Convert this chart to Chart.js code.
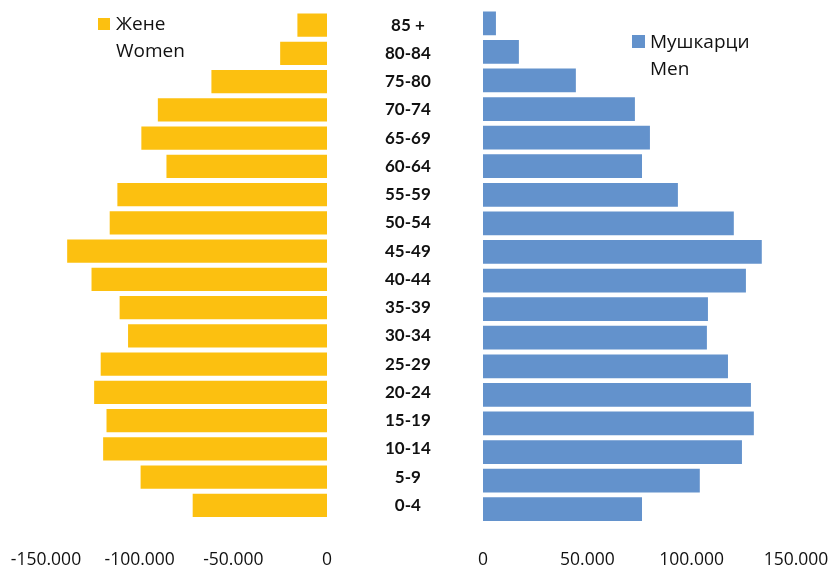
<!DOCTYPE html>
<html>
<head>
<meta charset="utf-8">
<script src="https://cdn.jsdelivr.net/npm/chart.js@4"></script>
<style>
  html, body { margin: 0; padding: 0; background: #fff; }
  #wrap { position: relative; width: 832px; height: 566px; overflow: hidden; }
  #zene { position: absolute; left: 0; top: 0; }
  #muski { position: absolute; left: 470px; top: 0; }
  .leg { position: absolute; font-family: "Open Sans", sans-serif; font-size: 19px; line-height: 27px; color: #111; }
  .leg i { position: absolute; width: 12px; height: 12px; }
</style>
</head>
<body>
<div id="wrap">
  <canvas id="zene" width="470" height="572"></canvas>
  <canvas id="muski" width="362" height="572"></canvas>
  <div class="leg" style="left:116px; top:10px;"><i style="left:-18px; top:8px; background:#FCC010;"></i>Жене<br>Women</div>
  <div class="leg" style="left:650px; top:28px;"><i style="left:-18px; top:7px; width:13px; height:13px; background:#6392CC;"></i>Мушкарци<br>Men</div>
</div>
<script>
// Старосне групе, од највише ка најнижој
const grupe = ['85 +', '80-84', '75-80', '70-74', '65-69', '60-64', '55-59', '50-54', '45-49',
               '40-44', '35-39', '30-34', '25-29', '20-24', '15-19', '10-14', '5-9', '0-4'];

// Жене (негативне вредности, лева страна)
const zene = [-15800, -25000, -61700, -90300, -99100, -85700, -111900, -116000, -138700,
              -125700, -110700, -106200, -120800, -124300, -117700, -119500, -99500, -71700];

// Мушкарци (десна страна)
const muskarci = [6200, 17200, 44500, 72800, 80000, 76200, 93400, 120200, 133600,
                  126000, 107800, 107300, 117400, 128400, 129800, 124100, 103900, 76200];

const tickoviZ = [-150000, -100000, -50000, 0];
const tickoviM = [0, 50000, 100000, 150000];

Chart.defaults.font.family = 'Lato';
Chart.defaults.color = '#111';

// format 150.000
function formatBroj(v) {
    return String(v).replace(/\B(?=(\d{3})+(?!\d))/g, '.');
}

const fontOse = { family: 'Open Sans', size: 17.5, lineHeight: 1 };

// Леви графикон - жене, са ознакама група у средини
new Chart(document.getElementById('zene'), {
    type: 'bar',
    data: {
        labels: grupe,
        datasets: [{
            label: 'Жене',
            data: zene,
            backgroundColor: '#FCC010',
            categoryPercentage: 1,
            barPercentage: 0.83,
        }],
    },
    options: {
        indexAxis: 'y',
        responsive: false,
        animation: false,
        layout: { padding: { left: 46, top: 11, right: 0, bottom: 0 } },
        plugins: { legend: { display: false }, tooltip: { enabled: false } },
        scales: {
            x: {
                min: -150000,
                max: 0,
                afterBuildTicks: (scale) => { scale.ticks = tickoviZ.map(v => ({ value: v })); },
                grid: { display: false, drawTicks: true, tickLength: 29 },
                border: { display: false },
                ticks: { padding: 3, maxRotation: 0, font: fontOse, callback: (v) => formatBroj(v) },
            },
            y: {
                position: 'right',
                grid: { display: false, drawTicks: true, tickLength: 58 },
                border: { display: false },
                afterFit: (scale) => { scale.width = 143; },
                ticks: { crossAlign: 'center', padding: 0, font: { size: 17, weight: 'bold' } },
            },
        },
    },
});

// Десни графикон - мушкарци
new Chart(document.getElementById('muski'), {
    type: 'bar',
    data: {
        labels: grupe,
        datasets: [{
            label: 'Мушкарци',
            data: muskarci,
            backgroundColor: '#6392CC',
            categoryPercentage: 1,
            barPercentage: 0.83,
        }],
    },
    options: {
        indexAxis: 'y',
        responsive: false,
        animation: false,
        layout: { padding: { left: 13, top: 9, right: 36, bottom: 0 } },
        plugins: { legend: { display: false }, tooltip: { enabled: false } },
        scales: {
            x: {
                min: 0,
                max: 150000,
                afterBuildTicks: (scale) => { scale.ticks = tickoviM.map(v => ({ value: v })); },
                grid: { display: false, drawTicks: true, tickLength: 25 },
                border: { display: false },
                ticks: { padding: 3, maxRotation: 0, font: fontOse, callback: (v) => formatBroj(v) },
            },
            y: {
                display: false,
            },
        },
    },
});
</script>
</body>
</html>
